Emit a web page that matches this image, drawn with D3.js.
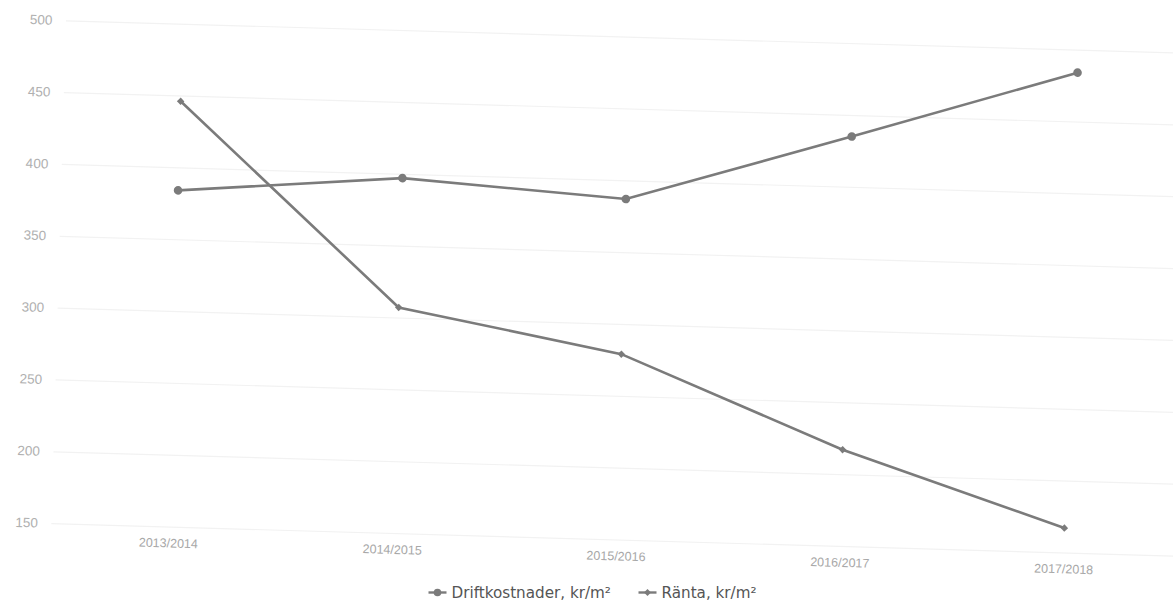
<!DOCTYPE html>
<html>
<head>
<meta charset="utf-8">
<script src="https://cdn.jsdelivr.net/npm/d3@7"></script>
<style>
  html, body { margin: 0; padding: 0; background: #fff; }
  svg { display: block; }
</style>
</head>
<body>
<svg id="chart" width="1173" height="605"></svg>
<script>
const categories = ["2013/2014", "2014/2015", "2015/2016", "2016/2017", "2017/2018"];
const driftkostnader = [384, 397, 387, 435, 484];
const ranta = [446, 307, 279, 217, 167];
const yTicks = [150, 200, 250, 300, 350, 400, 450, 500];
const seriesNames = ["Driftkostnader, kr/m²", "Ränta, kr/m²"];

const svg = d3.select("#chart");
const g = svg.append("g").attr("transform", "rotate(1.66, 586, 302)");

const x = d3.scalePoint().domain(categories).range([175, 1070.7]);
const y = d3.scaleLinear().domain([150, 500]).range([538.5, 35.5]);

const gridLeft = 58, gridRight = 1195;

// y axis with gridlines
const yAxis = g.append("g")
  .attr("transform", `translate(${gridLeft},0)`)
  .call(d3.axisLeft(y).tickValues(yTicks).tickSize(-(gridRight - gridLeft)).tickPadding(13.5));
yAxis.select(".domain").remove();
yAxis.selectAll(".tick line").attr("stroke", "#f2f2f2").attr("stroke-width", 1.2);
yAxis.selectAll(".tick text")
  .attr("fill", "#b0b0b0")
  .style("font-family", "'Liberation Sans', Arial, sans-serif")
  .style("font-size", "13.5px");

// x axis labels
const xAxis = g.append("g")
  .attr("transform", `translate(0,${y(150)})`)
  .call(d3.axisBottom(x).tickSize(0).tickPadding(12));
xAxis.select(".domain").remove();
xAxis.selectAll(".tick text")
  .attr("fill", "#a8a8a8")
  .style("font-family", "'Liberation Sans', Arial, sans-serif")
  .style("font-size", "12.5px");

const color = "#7b7b7b";
const line = d3.line().x((d, i) => x(categories[i])).y(d => y(d));

// Driftkostnader
g.append("path").datum(driftkostnader)
  .attr("d", line).attr("fill", "none")
  .attr("stroke", color).attr("stroke-width", 2.6);
g.selectAll(".dmark").data(driftkostnader).enter().append("circle")
  .attr("class", "dmark")
  .attr("cx", (d, i) => x(categories[i])).attr("cy", d => y(d))
  .attr("r", 4.3).attr("fill", color);

// Ränta
g.append("path").datum(ranta)
  .attr("d", line).attr("fill", "none")
  .attr("stroke", color).attr("stroke-width", 2.6);
const diamond = d3.symbol().type(d3.symbolSquare).size(28);
g.selectAll(".rmark").data(ranta).enter().append("path")
  .attr("class", "rmark")
  .attr("transform", (d, i) => `translate(${x(categories[i])},${y(d)}) rotate(45)`)
  .attr("d", diamond).attr("fill", color);

// legend (kept level, below the plot)
const legendY = 592.5;
const legendItems = [
  { name: seriesNames[0], cx: 437.5, tx: 451.5, symbol: "circle" },
  { name: seriesNames[1], cx: 647.5, tx: 661.5, symbol: "diamond" }
];
const lg = svg.append("g");
legendItems.forEach(it => {
  lg.append("line")
    .attr("x1", it.cx - 9).attr("x2", it.cx + 9)
    .attr("y1", legendY).attr("y2", legendY)
    .attr("stroke", color).attr("stroke-width", 2.4);
  if (it.symbol === "circle") {
    lg.append("circle").attr("cx", it.cx).attr("cy", legendY).attr("r", 3.8).attr("fill", color);
  } else {
    lg.append("path").attr("transform", `translate(${it.cx},${legendY}) rotate(45)`)
      .attr("d", d3.symbol().type(d3.symbolSquare).size(24)).attr("fill", color);
  }
  lg.append("text")
    .attr("x", it.tx).attr("y", legendY)
    .attr("dy", "0.35em")
    .attr("fill", "#555")
    .style("font-family", "'DejaVu Sans', Verdana, sans-serif")
    .style("font-size", "15.2px")
    .text(it.name);
});
</script>
</body>
</html>
